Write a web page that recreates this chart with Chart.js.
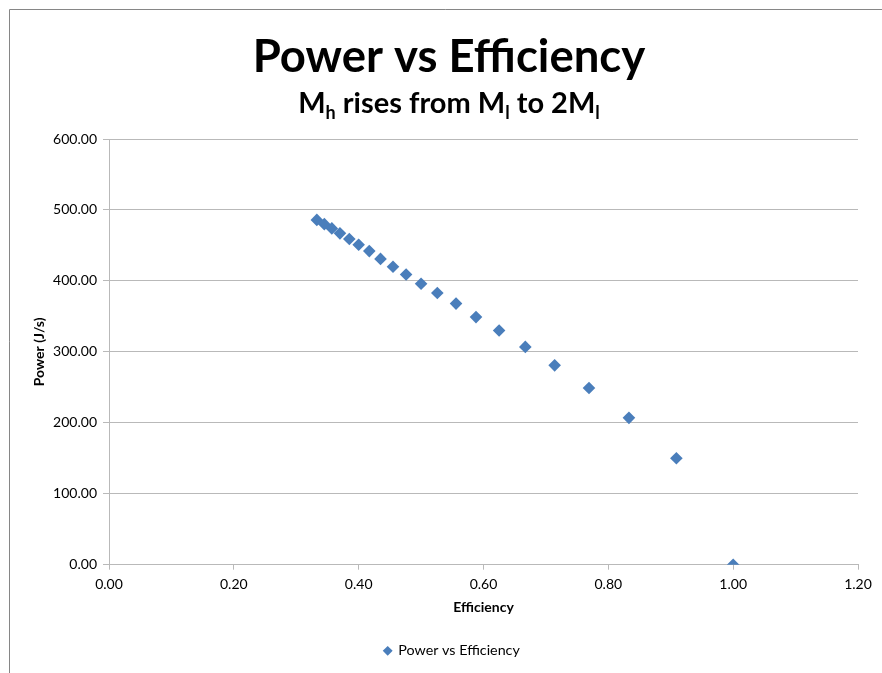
<!DOCTYPE html>
<html>
<head>
<meta charset="utf-8">
<title>Power vs Efficiency</title>
<script src="https://cdn.jsdelivr.net/npm/chart.js@4.4.1/dist/chart.umd.min.js"></script>
<style>
  html, body { margin: 0; padding: 0; background: #fff; overflow: hidden; }
  #wrap { position: relative; width: 882px; height: 673px; }
</style>
</head>
<body>
<div id="wrap"><canvas id="chart" width="882" height="673"></canvas></div>
<script>
(function () {
  "use strict";

  // ---- data ---------------------------------------------------------------
  const EFFICIENCY = [0.333, 0.345, 0.357, 0.370, 0.385, 0.400, 0.417, 0.435, 0.455, 0.476, 0.500,
                      0.526, 0.556, 0.588, 0.625, 0.667, 0.714, 0.769, 0.833, 0.909, 1.000];
  const POWER = [486, 480, 474, 467, 459, 451, 442, 431, 420, 409, 396,
                 383, 368, 349, 330, 307, 281, 249, 207, 150, 0];
  const X_TICKS = [0, 0.2, 0.4, 0.6, 0.8, 1.0, 1.2];
  const Y_TICKS = [0, 100, 200, 300, 400, 500, 600];

  const TITLE = "Power vs Efficiency";
  // [text, isSubscript]
  const SUBTITLE = [["M", false], ["h", true], [" rises from M", false], ["l", true], [" to 2M", false], ["l", true]];
  const SERIES_LABEL = "Power vs Efficiency";
  const X_TITLE = "Efficiency";
  const Y_TITLE = "Power (J/s)";

  const BLUE = "#4a7ebb";
  const GRID = "#b9b9b9";
  const FRAME = "#868686";
  const FONT = "Lato, 'Open Sans', sans-serif";
  const CENTER_X = 449; // excel centres titles on the whole chart object (wider than the crop)

  Chart.defaults.font.family = FONT;
  Chart.defaults.color = "#000";

  // frame, titles, and legend nudge
  const excelBits = {
    id: "excelBits",
    afterLayout(chart) {
      if (chart.legend) {
        chart.legend.left += 18;
        chart.legend.right += 18;
      }
    },
    beforeDraw(chart) {
      const ctx = chart.ctx;
      ctx.save();
      ctx.fillStyle = "#fff";
      ctx.fillRect(0, 0, chart.width, chart.height);
      ctx.strokeStyle = FRAME;
      ctx.lineWidth = 1;
      ctx.beginPath();
      ctx.moveTo(9.5, chart.height);
      ctx.lineTo(9.5, 9.5);
      ctx.lineTo(chart.width, 9.5);
      ctx.stroke();
      ctx.restore();
    },
    afterDraw(chart) {
      const ctx = chart.ctx;
      ctx.save();
      ctx.fillStyle = "#000";
      ctx.textBaseline = "alphabetic";
      ctx.textAlign = "center";
      ctx.font = "bold 45.5px " + FONT;
      ctx.fillText(TITLE, CENTER_X, 72);

      const big = "bold 29px " + FONT;
      const small = "bold 18px " + FONT;
      let total = 0;
      SUBTITLE.forEach(([t, sub]) => {
        ctx.font = sub ? small : big;
        total += ctx.measureText(t).width;
      });
      let x = CENTER_X - total / 2;
      ctx.textAlign = "left";
      SUBTITLE.forEach(([t, sub]) => {
        ctx.font = sub ? small : big;
        ctx.fillText(t, x, sub ? 119 : 113);
        x += ctx.measureText(t).width;
      });
      ctx.restore();
    },
  };

  new Chart(document.getElementById("chart"), {
    type: "scatter",
    data: {
      datasets: [{
        label: SERIES_LABEL,
        data: EFFICIENCY.map((e, i) => ({ x: e, y: POWER[i] })),
        pointStyle: "rectRot",
        pointRadius: 6.3,
        pointHoverRadius: 6.3,
        backgroundColor: BLUE,
        borderColor: BLUE,
        borderWidth: 0,
      }],
    },
    options: {
      responsive: false,
      animation: false,
      layout: { padding: { left: 10, right: 24, top: 139, bottom: 5 } },
      plugins: {
        title: { display: false },
        tooltip: { enabled: false },
        legend: {
          position: "bottom",
          labels: { usePointStyle: true, boxWidth: 7, boxHeight: 7, padding: 10, color: "#000", font: { size: 14.3 } },
        },
      },
      scales: {
        x: {
          type: "linear",
          min: 0,
          max: 1.2,
          afterBuildTicks: (s) => { s.ticks = X_TICKS.map((v) => ({ value: v })); },
          afterFit: (s) => { s.height = 69; },
          border: { display: true, color: GRID, width: 1 },
          grid: { drawOnChartArea: false, color: GRID, tickColor: GRID, tickLength: 5 },
          ticks: { padding: 6, maxRotation: 0, color: "#000", font: { size: 14 }, callback: (v) => Number(v).toFixed(2) },
          title: { display: true, text: X_TITLE, color: "#000", font: { size: 14, weight: "bold" }, padding: { top: 0, bottom: 17.5 } },
        },
        y: {
          min: 0,
          max: 600,
          afterBuildTicks: (s) => { s.ticks = Y_TICKS.map((v) => ({ value: v })); },
          afterFit: (s) => { s.width = 99; },
          border: { display: true, color: GRID, width: 1 },
          grid: { color: GRID, tickColor: GRID, lineWidth: 1, tickLength: 6 },
          ticks: { padding: 6, color: "#000", font: { size: 14 }, callback: (v) => Number(v).toFixed(2) },
          title: { display: true, text: Y_TITLE, color: "#000", font: { size: 14, weight: "bold" }, padding: { top: 21.5, bottom: 0 } },
        },
      },
    },
    plugins: [excelBits],
  });
})();
</script>
</body>
</html>
